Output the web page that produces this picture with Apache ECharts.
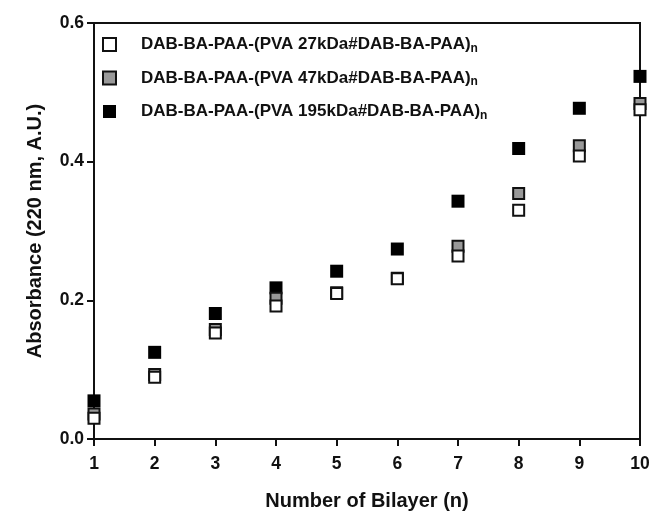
<!DOCTYPE html>
<html>
<head>
<meta charset="utf-8">
<script src="https://cdn.jsdelivr.net/npm/echarts@6/dist/echarts.min.js"></script>
<style>
  html, body { margin: 0; padding: 0; background: #fff; }
  #chart { width: 651px; height: 511px; }
</style>
</head>
<body>
<div id="chart"></div>
<script>
// Number of bilayers deposited
const bilayers = [1, 2, 3, 4, 5, 6, 7, 8, 9, 10];

// Absorbance at 220 nm for each PVA molecular weight
const pva27 = [0.030, 0.089, 0.153, 0.192, 0.210, 0.231, 0.264, 0.330, 0.408, 0.475];
const pva47 = [0.036, 0.093, 0.158, 0.203, 0.211, 0.232, 0.278, 0.354, 0.423, 0.484];
const pva195 = [0.055, 0.125, 0.181, 0.218, 0.242, 0.274, 0.343, 0.419, 0.477, 0.523];

const seriesNames = [
  'DAB-BA-PAA-(PVA 27kDa#DAB-BA-PAA)',
  'DAB-BA-PAA-(PVA 47kDa#DAB-BA-PAA)',
  'DAB-BA-PAA-(PVA 195kDa#DAB-BA-PAA)'
];

const yTicks = { min: 0, max: 0.6, step: 0.2 };
const xTicks = { min: 1, max: 10, step: 1 };

const FONT = '"Liberation Sans", Arial, sans-serif';

function pairs(values) {
  return bilayers.map((b, i) => [b, values[i]]);
}

const chart = echarts.init(document.getElementById('chart'), null, { renderer: 'canvas' });

chart.setOption({
  animation: false,
  backgroundColor: '#fff',
  grid: {
    left: 94, right: 11, top: 23, bottom: 72,
    outerBoundsMode: 'none',
    containLabel: false,
    show: true, borderColor: '#111', borderWidth: 2, backgroundColor: 'transparent'
  },
  legend: {
    orient: 'vertical',
    left: 102, top: 36,
    padding: 0,
    itemWidth: 13, itemHeight: 13,
    itemGap: 15,
    data: [seriesNames[0], seriesNames[1], seriesNames[2]],
    formatter: name => '{t|' + name + '}{s|n}',
    textStyle: {
      padding: [0, 0, 0, 20],
      rich: {
        t: { fontFamily: FONT, fontWeight: 'bold', fontSize: 17, color: '#111', lineHeight: 20 },
        s: { fontFamily: FONT, fontWeight: 'bold', fontSize: 12, color: '#111', lineHeight: 10, verticalAlign: 'bottom' }
      }
    }
  },
  xAxis: {
    type: 'value',
    min: xTicks.min, max: xTicks.max, interval: xTicks.step,
    name: 'Number of Bilayer (n)',
    nameLocation: 'middle',
    nameGap: 52,
    nameTextStyle: { fontFamily: FONT, fontWeight: 'bold', fontSize: 20, color: '#111' },
    axisLine: { show: true, lineStyle: { color: '#111', width: 2 } },
    axisTick: { show: true, length: 7, lineStyle: { color: '#111', width: 2 } },
    axisLabel: { fontFamily: FONT, fontWeight: 'bold', fontSize: 17.5, color: '#111', margin: 16 },
    splitLine: { show: false }
  },
  yAxis: {
    type: 'value',
    min: yTicks.min, max: yTicks.max, interval: yTicks.step,
    name: 'Absorbance (220 nm, A.U.)',
    nameLocation: 'middle',
    nameGap: 49,
    nameTextStyle: { fontFamily: FONT, fontWeight: 'bold', fontSize: 20, color: '#111' },
    axisLine: { show: true, lineStyle: { color: '#111', width: 2 } },
    axisTick: { show: true, length: 7, lineStyle: { color: '#111', width: 2 } },
    axisLabel: {
      fontFamily: FONT, fontWeight: 'bold', fontSize: 17.5, color: '#111', margin: 10,
      formatter: v => v.toFixed(1)
    },
    splitLine: { show: false }
  },
  series: [
    {
      name: seriesNames[2], type: 'scatter', symbol: 'rect', symbolSize: 13,
      itemStyle: { color: '#000', borderColor: '#000', borderWidth: 0, opacity: 1 },
      data: pairs(pva195), clip: false
    },
    {
      name: seriesNames[1], type: 'scatter', symbol: 'rect', symbolSize: 11,
      itemStyle: { color: '#999', borderColor: '#111', borderWidth: 2, opacity: 1 },
      data: pairs(pva47), clip: false
    },
    {
      name: seriesNames[0], type: 'scatter', symbol: 'rect', symbolSize: 11,
      itemStyle: { color: '#fff', borderColor: '#111', borderWidth: 2, opacity: 1 },
      data: pairs(pva27), clip: false
    }
  ]
});
</script>
</body>
</html>
